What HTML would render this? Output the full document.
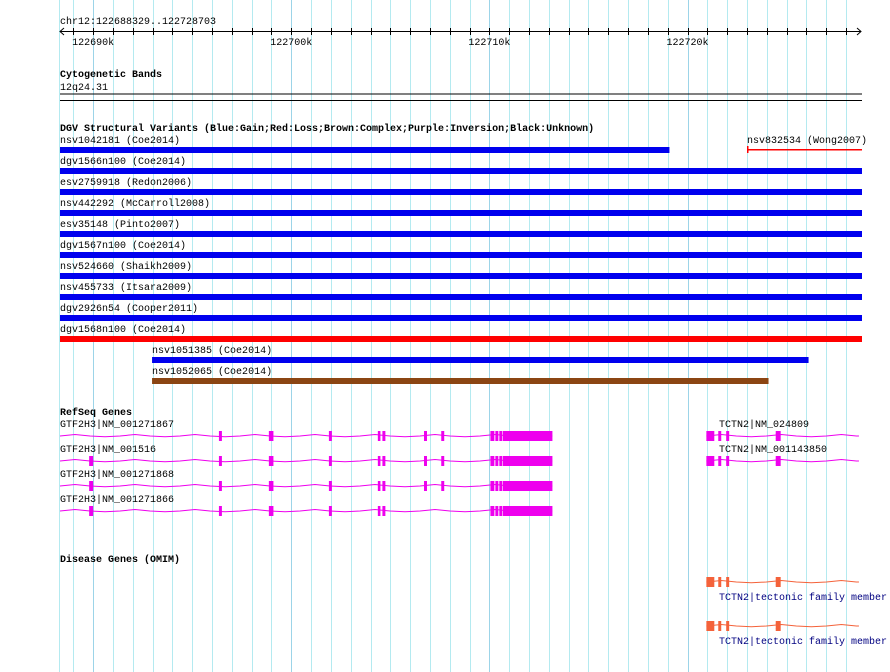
<!DOCTYPE html>
<html><head><meta charset="utf-8"><style>
body{margin:0;background:#fff}
svg{display:block}
text{font-family:"Liberation Mono","DejaVu Sans Mono",monospace;font-size:10px;fill:#000}
.b{font-weight:bold}
</style></head><body>
<svg id="c" width="890" height="672" xmlns="http://www.w3.org/2000/svg">
<g id="grid"></g>
<g id="ruler"></g>
<text x="60" y="24">chr12:122688329..122728703</text>
<text x="60" y="77" class="b">Cytogenetic Bands</text>
<text x="60" y="90">12q24.31</text>
<line x1="60" y1="94" x2="862" y2="94" stroke="#000" stroke-width="1"/>
<line x1="60" y1="100.5" x2="862" y2="100.5" stroke="#000" stroke-width="1"/>
<text x="60" y="131" class="b">DGV Structural Variants (Blue:Gain;Red:Loss;Brown:Complex;Purple:Inversion;Black:Unknown)</text>
<g id="dgv"></g>
<text x="60" y="415" class="b">RefSeq Genes</text>
<g id="genes"></g>
<text x="60" y="562" class="b">Disease Genes (OMIM)</text>
<g id="omim"></g>
</svg>
<script>
const START=122688329, END=122728703;
const tickLabels=["122690k","122700k","122710k","122720k"];
const tickValues=[122690000,122700000,122710000,122720000];
const varNames=["nsv1042181 (Coe2014)","nsv832534 (Wong2007)","dgv1566n100 (Coe2014)","esv2759918 (Redon2006)","nsv442292 (McCarroll2008)","esv35148 (Pinto2007)","dgv1567n100 (Coe2014)","nsv524660 (Shaikh2009)","nsv455733 (Itsara2009)","dgv2926n54 (Cooper2011)","dgv1568n100 (Coe2014)","nsv1051385 (Coe2014)","nsv1052065 (Coe2014)"];
const varStart=[122688329,122723000,122688329,122688329,122688329,122688329,122688329,122688329,122688329,122688329,122688329,122692975,122692975];
const varEnd=[122718985,122728703,122728703,122728703,122728703,122728703,122728703,122728703,122728703,122728703,122728703,122726006,122723986];
const varType=["gain","lossthin","gain","gain","gain","gain","gain","gain","gain","gain","loss","gain","complex"];
const varRow=[0,0,1,2,3,4,5,6,7,8,9,10,11];
const geneNames=["GTF2H3|NM_001271867","GTF2H3|NM_001516","GTF2H3|NM_001271868","GTF2H3|NM_001271866"];
const exonStarts=[
[122696350,122698870,122701900,122704370,122704600,122706700,122707570,122710050,122710300,122710500,122710680],
[122689800,122696350,122698870,122701900,122704370,122704600,122706700,122707570,122710050,122710300,122710500,122710680],
[122689800,122696350,122698870,122701900,122704370,122704600,122706700,122707570,122710050,122710300,122710500,122710680],
[122689800,122696350,122698870,122701900,122704370,122704600,122710050,122710300,122710500,122710680]];
const exonEnds=[
[122696500,122699100,122702050,122704500,122704750,122706850,122707720,122710250,122710450,122710650,122713180],
[122690000,122696500,122699100,122702050,122704500,122704750,122706850,122707720,122710250,122710450,122710650,122713180],
[122690000,122696500,122699100,122702050,122704500,122704750,122706850,122707720,122710250,122710450,122710650,122713180],
[122690000,122696500,122699100,122702050,122704500,122704750,122710250,122710450,122710650,122713180]];
const tctnNames=["TCTN2|NM_024809","TCTN2|NM_001143850"];
const tctnStarts=[122720950,122721550,122721950,122724450];
const tctnEnds=[122721350,122721700,122722100,122724700];
const TCTN_END=122728650;
const omimNames=["TCTN2|tectonic family member","TCTN2|tectonic family member"];
function X(bp){return 60+(bp-START)*800/(END-START);}
const NS="http://www.w3.org/2000/svg";
function el(p,tag,a){const e=document.createElementNS(NS,tag);for(const k in a)e.setAttribute(k,a[k]);p.appendChild(e);return e;}
const grid=document.getElementById('grid');
for(let bp=122686000;bp<=END;bp+=1000){
  const x=Math.round(X(bp))+0.5; if(x<59||x>862)continue;
  const major=bp%10000===0;
  const l=el(grid,'line',{x1:x,y1:0,x2:x,y2:672,stroke:major?'#9cd4e8':'#b4eaf0','stroke-width':1});
  
  
}
const g0=el(grid,'line',{x1:59.5,y1:0,x2:59.5,y2:672,stroke:'#b4eaf0'});


// grid every ~1k? actual reference every ~20px (~1000bp)
const ruler=document.getElementById('ruler');
const ax=el(ruler,'line',{x1:60,y1:31.5,x2:861,y2:31.5,stroke:'#000'});


el(ruler,'polyline',{points:'64,28 60,31.5 64,35',fill:'none',stroke:'#000'});
el(ruler,'polyline',{points:'857,28 861,31.5 857,35',fill:'none',stroke:'#000'});
for(let bp=122689000;bp<END;bp+=1000){
  const x=Math.round(X(bp))+0.5;
  const t=el(ruler,'line',{x1:x,y1:28,x2:x,y2:35,stroke:'#000'});
  
  
}
tickValues.forEach((v,i)=>{
  const t=el(ruler,'text',{x:X(v),y:45,'text-anchor':'middle'});
  t.textContent=tickLabels[i];
  
  
});
const dgv=document.getElementById('dgv');
const colors={gain:'#0000ee',loss:'#ff0000',complex:'#8b4513',lossthin:'#ff0000'};
varNames.forEach((n,i)=>{
  const y=147+varRow[i]*21;
  const x1=X(varStart[i]),x2=X(varEnd[i])+2;
  const t=el(dgv,'text',{x:i===1?x1:Math.max(60,x1),y:y-4});
  t.textContent=n;
  
  
  let r;
  if(varType[i]==='lossthin'){
    r=el(dgv,'rect',{x:x1,y:y+2,width:x2-x1,height:1.5,fill:colors.lossthin});
    el(dgv,'rect',{x:x1,y:y-1,width:1.5,height:7,fill:colors.lossthin});
  } else r=el(dgv,'rect',{x:x1,y:y,width:x2-x1,height:6,fill:colors[varType[i]]});
  
  
});
function drawGene(parent,x0,x1,y,starts,ends,color,arrow){
  let pts=[];const step=15;
  for(let x=x0,k=0;x<=x1;x+=step,k++){pts.push(x+','+(y+(k%4===1?-1.5:(k%4===3?0.8:0))));}
  pts.push(x1+','+y);
  const p=el(parent,'polyline',{points:pts.join(' '),fill:'none',stroke:color,'stroke-width':1});
  
  
  starts.forEach((s,j)=>{
    const a=X(s),b=Math.max(X(ends[j]),a+2.5);
    const r=el(parent,'rect',{x:a,y:y-5,width:b-a,height:10,fill:color});
    
    
  });
  if(arrow){const a=arrow;el(parent,'polyline',{points:(a-2)+','+(y-3)+' '+(a+1)+','+y+' '+(a-2)+','+(y+3),fill:'none',stroke:color});}
}
const genes=document.getElementById('genes');
geneNames.forEach((n,i)=>{
  const y=436+i*25;
  const t=el(genes,'text',{x:60,y:y-9});
  t.textContent=n;
  
  
  drawGene(genes,60,X(exonEnds[i][exonEnds[i].length-1]),y,exonStarts[i],exonEnds[i],'#ee00ee');
});
tctnNames.forEach((n,i)=>{
  const y=436+i*25;
  const t=el(genes,'text',{x:719,y:y-9});
  t.textContent=n;
  
  
  drawGene(genes,X(tctnStarts[0]),X(TCTN_END),y,tctnStarts,tctnEnds,'#ee00ee',778);
});
const omim=document.getElementById('omim');
omimNames.forEach((n,i)=>{
  const y=582+i*44;
  drawGene(omim,X(tctnStarts[0]),X(TCTN_END),y,tctnStarts,tctnEnds,'#f4623a',778);
  const t=el(omim,'text',{x:719,y:y+18,fill:'#000080'});
  t.style.fill='#000080';
  t.textContent=n;
  
  
});
</script>
</body></html>
